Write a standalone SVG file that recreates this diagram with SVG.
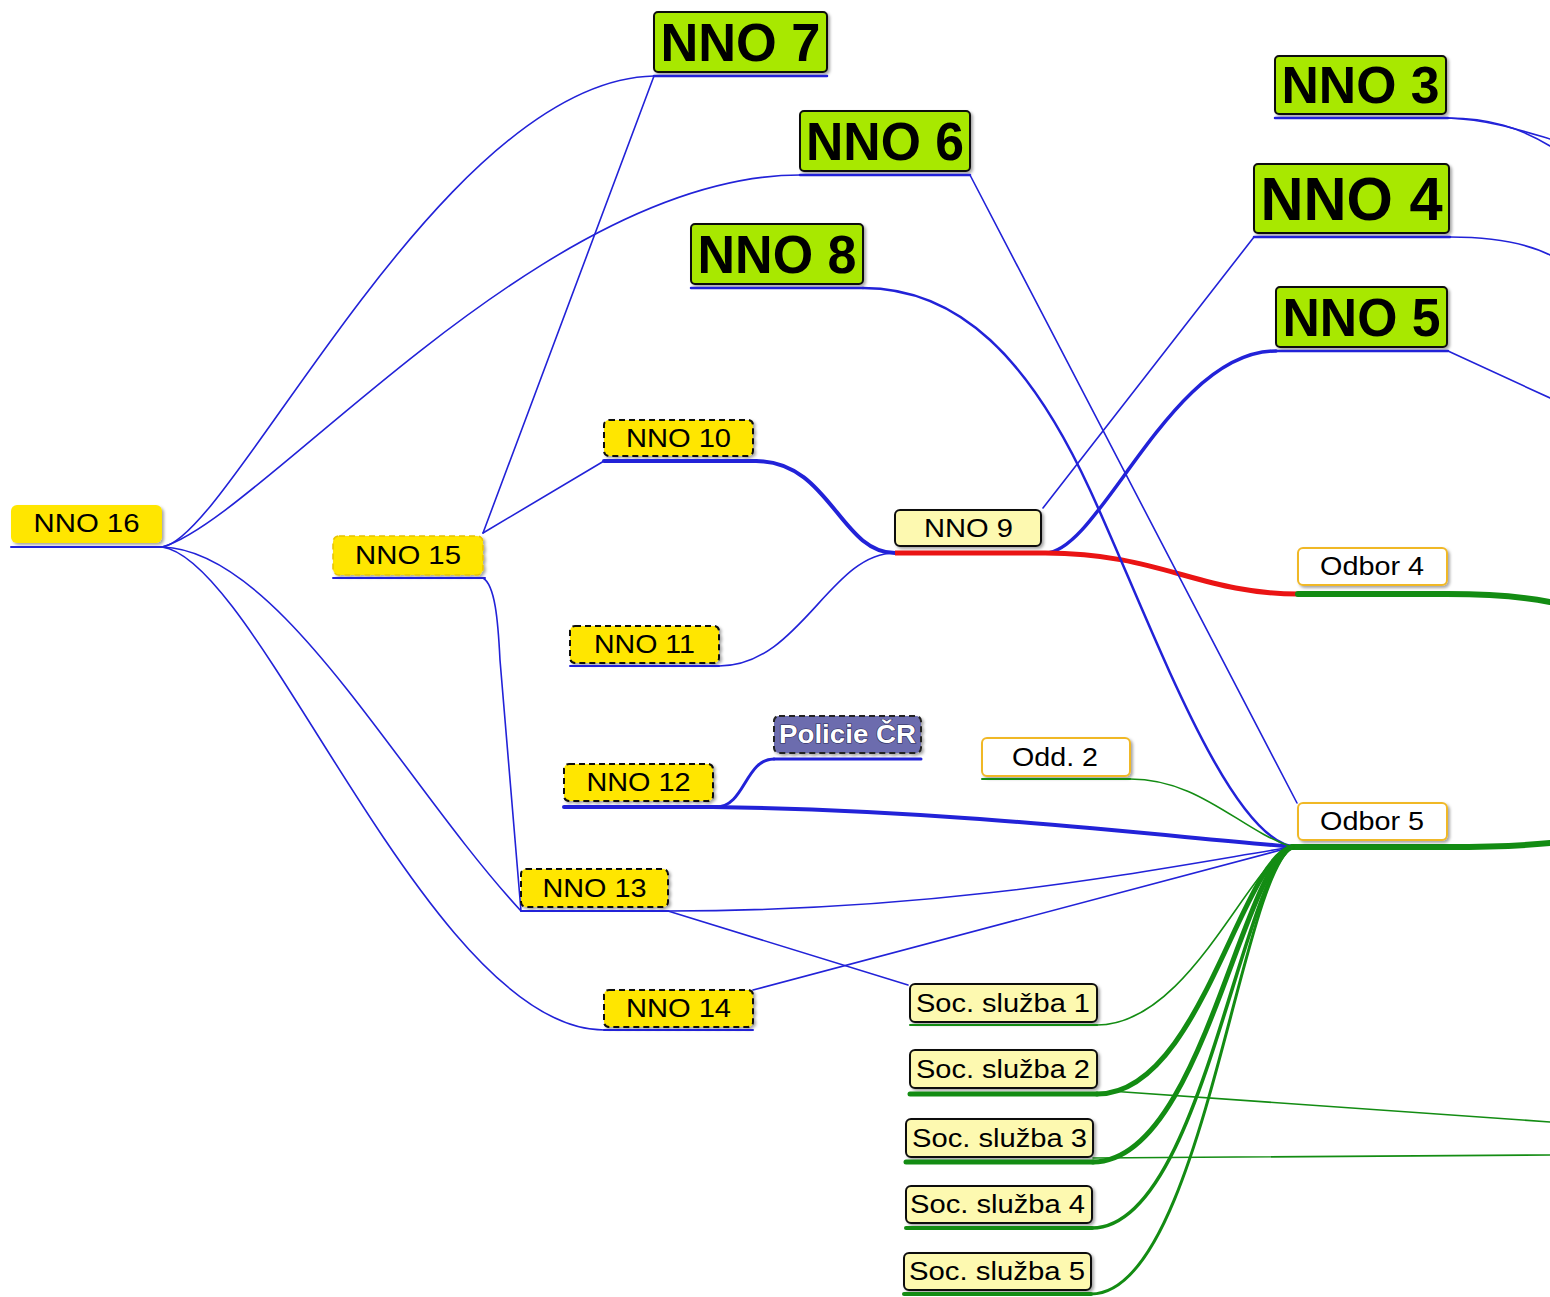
<svg xmlns="http://www.w3.org/2000/svg" width="1550" height="1297" viewBox="0 0 1550 1297">
<defs>
<filter id="sh" x="-10%" y="-10%" width="130%" height="140%">
<feDropShadow dx="2" dy="2" stdDeviation="1.5" flood-color="#000" flood-opacity="0.35"/>
</filter>
<style>
.b{fill:none;stroke:#2222d8;stroke-width:1.6;stroke-linecap:round}
.g{fill:none;stroke:#138c13;stroke-width:1.6;stroke-linecap:round}
.r{fill:none;stroke:#ea1414;stroke-width:5}
.big{fill:#a8e800;stroke:#111;stroke-width:2;filter:url(#sh)}
.yel{fill:#ffe600;filter:url(#sh)}
.yd{fill:#ffe600;stroke:#111;stroke-width:2;stroke-dasharray:6 4;filter:url(#sh)}
.yf{fill:#ffe600;stroke:#e8c400;stroke-width:1.5;stroke-dasharray:6 4;filter:url(#sh)}
.ly{fill:#fdf9b0;stroke:#111;stroke-width:2;filter:url(#sh)}
.wo{fill:#fff;stroke:#f0b828;stroke-width:2;filter:url(#sh)}
.po{fill:#6c6cae;stroke:#222;stroke-width:2;stroke-dasharray:6 4;filter:url(#sh)}
.tb{font-family:"Liberation Sans",Arial,sans-serif;font-weight:bold;text-anchor:middle;fill:#000}
.t{font-family:"Liberation Sans",Arial,sans-serif;font-size:25px;text-anchor:middle;fill:#000}
</style>
</defs>
<rect width="1550" height="1297" fill="#fff"/>
<g id="connectors">
<path class="b" d="M162,547 C230,540 440,80 654,76"/>
<path class="b" d="M162,547 C260,520 540,175 800,175"/>
<path class="b" d="M162,547 C280,550 400,780 521,911"/>
<path class="b" d="M162,547 C260,560 430,1030 604,1030"/>
<path class="b" d="M483,533 L654,76"/>
<path class="b" d="M483,533 L604,461"/>
<path class="b" d="M483,578 C495,585 498,620 500,660 L521,911"/>
<path class="b" style="stroke-width:4" d="M756,461 C830,461 840,553 895,553"/>
<path class="b" d="M719,666 C800,666 830,553 895,553"/>
<path class="b" d="M1043,508 L1254,237"/>
<path class="b" style="stroke-width:3.5" d="M1045,553 C1100,553 1170,351 1276,351"/>
<path class="r" d="M1045,553 C1160,553 1200,594 1298,594"/>
<path class="b" style="stroke-width:2.5" d="M863,288 C960,288 1030,360 1090,490 C1150,620 1230,847 1298,847"/>
<path class="b" d="M970,175 L1297,803"/>
<path class="b" style="stroke-width:4" d="M713,807 C950,810 1150,835 1295,847"/>
<path class="b" style="stroke-width:3" d="M716,807 C745,807 745,759 774,759"/>
<path class="b" d="M668,911 C950,911 1150,870 1292,847"/>
<path class="b" d="M668,911 L908,985"/>
<path class="b" d="M753,990 L1292,847"/>
<path class="b" d="M1448,118 C1490,118 1520,128 1550,146"/>
<path class="b" d="M1448,118 C1490,120 1520,130 1550,139"/>
<path class="b" d="M1450,237 C1500,237 1530,245 1550,255"/>
<path class="b" d="M1448,351 L1550,398"/>
<path class="g" style="stroke-width:6" d="M1298,594 L1447,594 C1500,594 1530,598 1550,602"/>
<path class="g" style="stroke-width:6" d="M1292,847 L1447,847 C1500,847 1530,845 1550,843"/>
<path class="g" d="M1130,779 C1200,779 1240,830 1292,847"/>
<path class="g" d="M1097,1025 C1190,1025 1250,860 1292,847"/>
<path class="g" style="stroke-width:5" d="M1097,1094 C1200,1094 1240,860 1292,847"/>
<path class="g" style="stroke-width:5" d="M1093,1162 C1200,1162 1240,870 1292,847"/>
<path class="g" style="stroke-width:3.5" d="M1092,1228 C1200,1228 1240,880 1292,847"/>
<path class="g" style="stroke-width:3" d="M1091,1294 C1200,1294 1240,880 1292,847"/>
<path class="g" d="M1110,1091 L1550,1122"/>
<path class="g" d="M1093,1158 L1550,1155"/>
</g>
<g id="nno7"><rect class="big" x="654" y="12" width="173" height="60" rx="4"/><line class="b" style="stroke-width:2.5" x1="654" y1="76" x2="827" y2="76"/><text class="tb" x="740.5" y="61" font-size="54" textLength="160" lengthAdjust="spacingAndGlyphs">NNO 7</text></g>
<g id="nno6"><rect class="big" x="800" y="111" width="170" height="60" rx="4"/><line class="b" style="stroke-width:2.5" x1="800" y1="175" x2="970" y2="175"/><text class="tb" x="885" y="160" font-size="54" textLength="158" lengthAdjust="spacingAndGlyphs">NNO 6</text></g>
<g id="nno8"><rect class="big" x="691" y="224" width="172" height="60" rx="4"/><line class="b" style="stroke-width:2.5" x1="691" y1="288" x2="863" y2="288"/><text class="tb" x="777" y="273" font-size="54" textLength="159" lengthAdjust="spacingAndGlyphs">NNO 8</text></g>
<g id="nno3"><rect class="big" x="1275" y="56" width="171" height="58" rx="4"/><line class="b" style="stroke-width:2.5" x1="1275" y1="118" x2="1448" y2="118"/><text class="tb" x="1360.5" y="103" font-size="52" textLength="158" lengthAdjust="spacingAndGlyphs">NNO 3</text></g>
<g id="nno4"><rect class="big" x="1254" y="164" width="195" height="69" rx="4"/><line class="b" style="stroke-width:2.5" x1="1254" y1="237" x2="1450" y2="237"/><text class="tb" x="1351.5" y="220" font-size="62" textLength="182" lengthAdjust="spacingAndGlyphs">NNO 4</text></g>
<g id="nno5"><rect class="big" x="1276" y="287" width="171" height="60" rx="4"/><line class="b" style="stroke-width:2.5" x1="1276" y1="351" x2="1448" y2="351"/><text class="tb" x="1361.5" y="336" font-size="54" textLength="158" lengthAdjust="spacingAndGlyphs">NNO 5</text></g>
<g id="nno16"><rect class="yel" x="11" y="505" width="151" height="38" rx="6"/><line class="b" style="stroke-width:2" x1="11" y1="547" x2="165" y2="547"/><text class="t" x="86.5" y="532" textLength="106" lengthAdjust="spacingAndGlyphs">NNO 16</text></g>
<g id="nno15"><rect class="yf" x="333" y="536" width="150" height="39" rx="6"/><line class="b" style="stroke-width:2" x1="333" y1="578" x2="485" y2="578"/><text class="t" x="408" y="564" textLength="106" lengthAdjust="spacingAndGlyphs">NNO 15</text></g>
<g id="nno10"><rect class="yd" x="604" y="420" width="149" height="36" rx="5"/><line class="b" style="stroke-width:4" x1="604" y1="461" x2="756" y2="461"/><text class="t" x="678.5" y="446.5" textLength="105" lengthAdjust="spacingAndGlyphs">NNO 10</text></g>
<g id="nno11"><rect class="yd" x="570" y="626" width="149" height="37" rx="5"/><line class="b" style="stroke-width:2" x1="570" y1="666" x2="719" y2="666"/><text class="t" x="644.5" y="653" textLength="101" lengthAdjust="spacingAndGlyphs">NNO 11</text></g>
<g id="nno12"><rect class="yd" x="564" y="764" width="149" height="37" rx="5"/><line class="b" style="stroke-width:4" x1="564" y1="807" x2="716" y2="807"/><text class="t" x="638.5" y="791" textLength="104" lengthAdjust="spacingAndGlyphs">NNO 12</text></g>
<g id="nno13"><rect class="yd" x="521" y="869" width="147" height="38" rx="5"/><line class="b" style="stroke-width:2" x1="521" y1="911" x2="668" y2="911"/><text class="t" x="594.5" y="896.5" textLength="104" lengthAdjust="spacingAndGlyphs">NNO 13</text></g>
<g id="nno14"><rect class="yd" x="604" y="990" width="149" height="37" rx="5"/><line class="b" style="stroke-width:2" x1="604" y1="1030" x2="753" y2="1030"/><text class="t" x="678.5" y="1017" textLength="105" lengthAdjust="spacingAndGlyphs">NNO 14</text></g>
<g id="policie"><rect class="po" x="774" y="716" width="147" height="37" rx="5"/><line class="b" style="stroke-width:3" x1="774" y1="759" x2="921" y2="759"/><text class="t" x="847.5" y="743" style="fill:#fff;font-weight:bold;stroke:#2a2a55;stroke-width:1.2;paint-order:stroke" textLength="137" lengthAdjust="spacingAndGlyphs">Policie ČR</text></g>
<g id="nno9"><rect class="ly" x="895" y="510" width="146" height="36" rx="5"/><line class="r" x1="895" y1="553" x2="1045" y2="553"/><text class="t" x="968.5" y="536.5" textLength="89" lengthAdjust="spacingAndGlyphs">NNO 9</text></g>
<g id="odd2"><rect class="wo" x="982" y="738" width="148" height="38" rx="5"/><line class="g" style="stroke-width:2" x1="982" y1="779" x2="1130" y2="779"/><text class="t" x="1055" y="765.5" textLength="86" lengthAdjust="spacingAndGlyphs">Odd. 2</text></g>
<g id="odbor4"><rect class="wo" x="1298" y="548" width="149" height="37" rx="5"/><text class="t" x="1372" y="575" textLength="104" lengthAdjust="spacingAndGlyphs">Odbor 4</text></g>
<g id="odbor5"><rect class="wo" x="1298" y="803" width="149" height="37" rx="5"/><text class="t" x="1372" y="830" textLength="104" lengthAdjust="spacingAndGlyphs">Odbor 5</text></g>
<g id="soc1"><rect class="ly" x="910" y="984" width="187" height="38" rx="5"/><line class="g" style="stroke-width:2" x1="910" y1="1025" x2="1097" y2="1025"/><text class="t" x="1003" y="1011.5" textLength="174" lengthAdjust="spacingAndGlyphs">Soc. služba 1</text></g>
<g id="soc2"><rect class="ly" x="910" y="1050" width="187" height="38" rx="5"/><line class="g" style="stroke-width:5" x1="910" y1="1094" x2="1097" y2="1094"/><text class="t" x="1003" y="1077.5" textLength="174" lengthAdjust="spacingAndGlyphs">Soc. služba 2</text></g>
<g id="soc3"><rect class="ly" x="906" y="1119" width="187" height="38" rx="5"/><line class="g" style="stroke-width:5" x1="906" y1="1162" x2="1093" y2="1162"/><text class="t" x="999.5" y="1146.5" textLength="175" lengthAdjust="spacingAndGlyphs">Soc. služba 3</text></g>
<g id="soc4"><rect class="ly" x="906" y="1186" width="186" height="37" rx="5"/><line class="g" style="stroke-width:4" x1="906" y1="1228" x2="1092" y2="1228"/><text class="t" x="997.5" y="1213" textLength="175" lengthAdjust="spacingAndGlyphs">Soc. služba 4</text></g>
<g id="soc5"><rect class="ly" x="904" y="1253" width="187" height="37" rx="5"/><line class="g" style="stroke-width:4" x1="904" y1="1294" x2="1091" y2="1294"/><text class="t" x="997" y="1280" textLength="176" lengthAdjust="spacingAndGlyphs">Soc. služba 5</text></g>
</svg>
